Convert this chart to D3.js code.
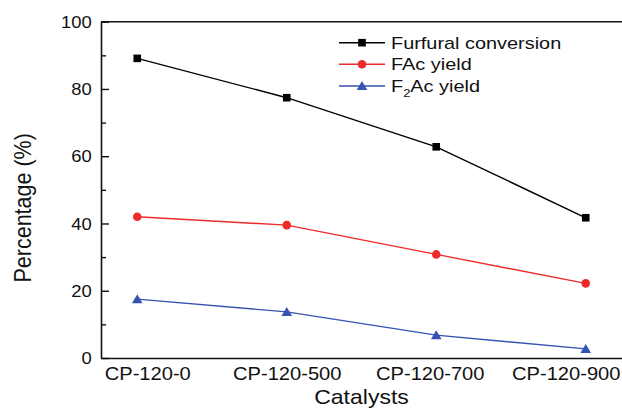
<!DOCTYPE html>
<html>
<head>
<meta charset="utf-8">
<script src="https://cdn.jsdelivr.net/npm/d3@7"></script>
<style>
  html, body { margin: 0; padding: 0; background: #fff; }
  svg { display: block; font-family: "Liberation Sans", Arial, sans-serif; }
</style>
</head>
<body>
<svg id="chart" width="622" height="409"></svg>
<script>
const categories = ["CP-120-0", "CP-120-500", "CP-120-700", "CP-120-900"];
const furfuralConversion = [89.1, 77.4, 62.8, 41.7];
const facYield = [42.0, 39.5, 30.8, 22.2];
const f2acYield = [17.5, 13.7, 6.8, 2.7];
const yMajorTicks = [0, 20, 40, 60, 80, 100];
const yMinorTicks = [10, 30, 50, 70, 90];

const series = [
  { name: "Furfural conversion", values: furfuralConversion, color: "#000000", marker: "square" },
  { name: "FAc yield", values: facYield, color: "#ee2b2b", marker: "circle" },
  { name: "F2Ac yield", values: f2acYield, color: "#3652b2", marker: "triangle" }
];

(function () {
const svg = d3.select("#chart");
const mLeft = 101, mRight = 622, mTop = 21.7, mBottom = 358;
// horizontal nudges of the category labels, as laid out in the original figure
const labelNudge = [10, 0, -6.5, -20];

const x = d3.scalePoint().domain(categories).range([mLeft, mRight]).padding(0.2425);
const y = d3.scaleLinear().domain([0, 100]).range([mBottom, mTop]);

// top frame line
svg.append("line").attr("x1", mLeft).attr("x2", mRight).attr("y1", mTop).attr("y2", mTop)
  .attr("stroke", "#111").attr("stroke-width", 1.6);

// y axis major
const yAxis = svg.append("g").attr("transform", `translate(${mLeft},0)`)
  .call(d3.axisLeft(y).tickValues(yMajorTicks).tickSize(-8).tickSizeOuter(0).tickPadding(9.3));
yAxis.select(".domain").attr("stroke", "#111").attr("stroke-width", 1.6);
yAxis.selectAll(".tick line").attr("stroke", "#111").attr("stroke-width", 1.4);
yAxis.selectAll(".tick text")
  .attr("font-size", 16).attr("fill", "#111")
  .attr("font-family", "Liberation Sans, Arial, sans-serif")
  .attr("x", -9.3 / 1.15).attr("dy", "0.36em")
  .attr("transform", "scale(1.15,1)");

// y axis minor
const yMinor = svg.append("g").attr("transform", `translate(${mLeft},0)`)
  .call(d3.axisLeft(y).tickValues(yMinorTicks).tickSize(-5).tickSizeOuter(0).tickFormat(""));
yMinor.select(".domain").remove();
yMinor.selectAll(".tick line").attr("stroke", "#111").attr("stroke-width", 1.4);

// x axis
const xAxis = svg.append("g").attr("transform", `translate(0,${mBottom})`)
  .call(d3.axisBottom(x).tickSize(0).tickSizeOuter(0).tickPadding(9));
xAxis.select(".domain").attr("stroke", "#111").attr("stroke-width", 1.6);
xAxis.selectAll(".tick text")
  .attr("font-size", 17.5).attr("fill", "#111")
  .attr("font-family", "Liberation Sans, Arial, sans-serif")
  .attr("y", 0).attr("dy", 0)
  .attr("transform", (d, i) => `translate(${labelNudge[i]},22) scale(1.15,1)`);

// axis titles
svg.append("text").attr("text-anchor", "middle").attr("font-size", 20).attr("fill", "#111")
  .attr("transform", `translate(${(x(categories[1]) + x(categories[2])) / 2},404) scale(1.15,1)`)
  .text("Catalysts");
svg.append("text").attr("text-anchor", "middle").attr("font-size", 21.5).attr("fill", "#111")
  .attr("transform", `translate(31,${(y(0) + y(100)) / 2 + 18}) rotate(-90) scale(1,1.1)`)
  .text("Percentage (%)");

const line = d3.line().x((d, i) => x(categories[i])).y(d => y(d));

function drawMarker(g, type, cx, cy, color) {
  if (type === "square") {
    g.append("rect").attr("x", cx - 3.8).attr("y", cy - 3.8).attr("width", 7.6).attr("height", 7.6).attr("fill", color);
  } else if (type === "circle") {
    g.append("circle").attr("cx", cx).attr("cy", cy).attr("r", 4.3).attr("fill", color);
  } else {
    g.append("path").attr("d", `M${cx},${cy - 5} L${cx + 5.3},${cy + 4} L${cx - 5.3},${cy + 4} Z`).attr("fill", color);
  }
}

series.forEach(s => {
  const g = svg.append("g");
  g.append("path").datum(s.values).attr("d", line).attr("fill", "none")
    .attr("stroke", s.color).attr("stroke-width", 1.4);
  s.values.forEach((v, i) => drawMarker(g, s.marker, x(categories[i]), y(v), s.color));
});

// legend
const legendRows = [42.7, 64.2, 86];
series.forEach((s, i) => {
  const g = svg.append("g");
  const ly = legendRows[i];
  g.append("line").attr("x1", 339).attr("x2", 385).attr("y1", ly).attr("y2", ly)
    .attr("stroke", s.color).attr("stroke-width", 1.4);
  drawMarker(g, s.marker, 362, ly, s.color);
  const t = g.append("text").attr("font-size", 17).attr("fill", "#111")
    .attr("transform", `translate(391,${ly + 6}) scale(1.17,1)`);
  if (s.name === "F2Ac yield") {
    t.append("tspan").text("F");
    t.append("tspan").attr("font-size", 11).attr("dy", 5).text("2");
    t.append("tspan").attr("dy", -5).text("Ac yield");
  } else {
    t.text(s.name);
  }
});
})();
</script>
</body>
</html>
